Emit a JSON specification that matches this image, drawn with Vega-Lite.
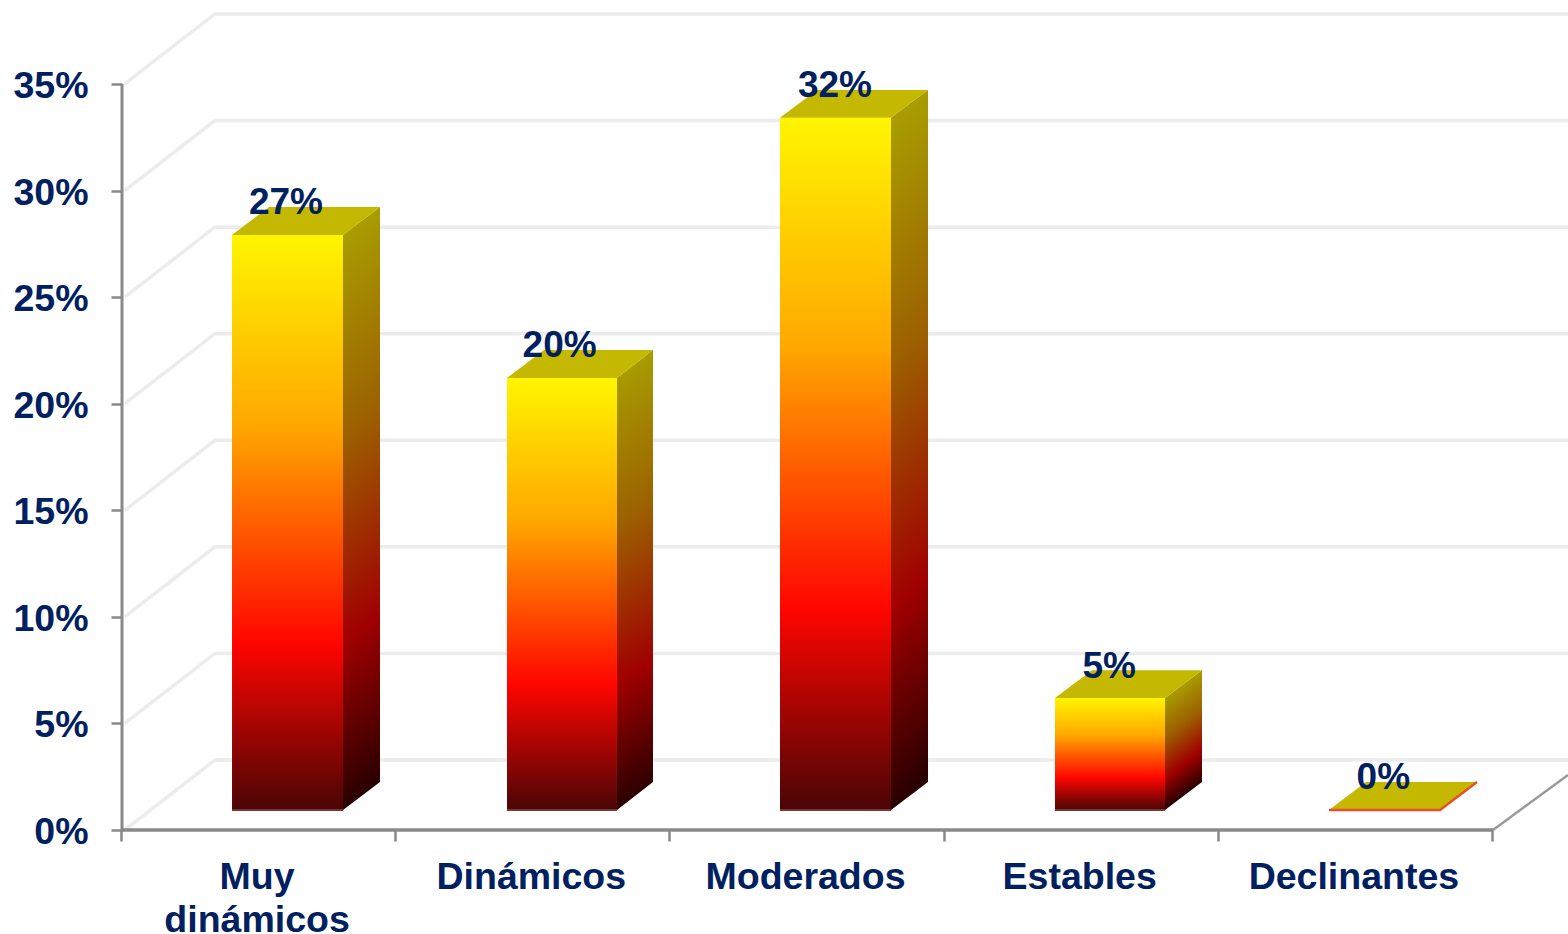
{"$schema":"https://vega.github.io/schema/vega-lite/v6.json","width":1446,"height":830,"autosize":"none","padding":{"left":122,"top":0,"right":0,"bottom":104},"background":"#ffffff","config":{"view":{"stroke":null},"font":"Liberation Sans"},
"datasets":{
"walls":[
{"level":0,"x":0.01,"y":0},{"level":0,"x":0.339,"y":3.284},{"level":0,"x":5.2735,"y":3.284},
{"level":5,"x":0.01,"y":5},{"level":5,"x":0.339,"y":8.284},{"level":5,"x":5.2735,"y":8.284},
{"level":10,"x":0.01,"y":10},{"level":10,"x":0.339,"y":13.284},{"level":10,"x":5.2735,"y":13.284},
{"level":15,"x":0.01,"y":15},{"level":15,"x":0.339,"y":18.284},{"level":15,"x":5.2735,"y":18.284},
{"level":20,"x":0.01,"y":20},{"level":20,"x":0.339,"y":23.284},{"level":20,"x":5.2735,"y":23.284},
{"level":25,"x":0.01,"y":25},{"level":25,"x":0.339,"y":28.284},{"level":25,"x":5.2735,"y":28.284},
{"level":30,"x":0.01,"y":30},{"level":30,"x":0.339,"y":33.284},{"level":30,"x":5.2735,"y":33.284},
{"level":35,"x":0.01,"y":35},{"level":35,"x":0.339,"y":38.284},{"level":35,"x":5.2735,"y":38.284}],
"bars":[
{"category":"Muy dinámicos","label":"27%","x0":0.4012,"x1":0.806,"mid":0.598,"base":0.938,"top":27.92,"back":29.23},
{"category":"Dinámicos","label":"20%","x0":1.4041,"x1":1.8052,"mid":1.596,"base":0.938,"top":21.21,"back":22.52},
{"category":"Moderados","label":"32%","x0":2.3997,"x1":2.8045,"mid":2.6,"base":0.938,"top":33.41,"back":34.72},
{"category":"Estables","label":"5%","x0":3.4026,"x1":3.8038,"mid":3.6,"base":0.938,"top":6.19,"back":7.5},
{"category":"Declinantes","label":"0%","x0":4.4019,"x1":4.8067,"mid":4.6,"base":0.938,"top":0.938,"back":2.252}],
"sides":[
{"category":"Muy dinámicos","x":0.806,"y":27.92,"y2":0.938},{"category":"Muy dinámicos","x":0.9409,"y":29.23,"y2":2.252},
{"category":"Dinámicos","x":1.8052,"y":21.21,"y2":0.938},{"category":"Dinámicos","x":1.9365,"y":22.52,"y2":2.252},
{"category":"Moderados","x":2.8045,"y":33.41,"y2":0.938},{"category":"Moderados","x":2.9395,"y":34.72,"y2":2.252},
{"category":"Estables","x":3.8038,"y":6.19,"y2":0.938},{"category":"Estables","x":3.9387,"y":7.5,"y2":2.252}],
"tops":[
{"category":"Muy dinámicos","x":0.4012,"y":27.92,"y2":27.92},{"category":"Muy dinámicos","x":0.5361,"y":29.23,"y2":27.92},{"category":"Muy dinámicos","x":0.806,"y":29.23,"y2":27.92},{"category":"Muy dinámicos","x":0.9409,"y":29.23,"y2":29.23},
{"category":"Dinámicos","x":1.4041,"y":21.21,"y2":21.21},{"category":"Dinámicos","x":1.539,"y":22.52,"y2":21.21},{"category":"Dinámicos","x":1.8052,"y":22.52,"y2":21.21},{"category":"Dinámicos","x":1.9365,"y":22.52,"y2":22.52},
{"category":"Moderados","x":2.3997,"y":33.41,"y2":33.41},{"category":"Moderados","x":2.5346,"y":34.72,"y2":33.41},{"category":"Moderados","x":2.8045,"y":34.72,"y2":33.41},{"category":"Moderados","x":2.9395,"y":34.72,"y2":34.72},
{"category":"Estables","x":3.4026,"y":6.19,"y2":6.19},{"category":"Estables","x":3.5375,"y":7.5,"y2":6.19},{"category":"Estables","x":3.8038,"y":7.5,"y2":6.19},{"category":"Estables","x":3.9387,"y":7.5,"y2":7.5},
{"category":"Declinantes","x":4.4019,"y":0.938,"y2":0.938},{"category":"Declinantes","x":4.5368,"y":2.252,"y2":0.938},{"category":"Declinantes","x":4.8067,"y":2.252,"y2":0.938},{"category":"Declinantes","x":4.9417,"y":2.252,"y2":2.252}],
"edge":[{"x":4.4019,"y":0.938},{"x":4.8067,"y":0.938},{"x":4.9417,"y":2.252}],
"rightFloor":[{"x":5,"y":0},{"x":5.2735,"y":2.58}]
},
"layer":[
{"data":{"name":"walls"},"mark":{"type":"line","color":"#ececec","strokeWidth":3.5},
"encoding":{"x":{"field":"x","type":"quantitative","scale":{"domain":[0,5.2735],"nice":false,"zero":false},"title":null,
"axis":{"values":[0,0.5,1,1.5,2,2.5,3,3.5,4,4.5,5],"title":null,"domain":false,"grid":false,"tickColor":"#898989","tickWidth":2.5,"tickSize":11,"tickOffset":-1,"tickOpacity":{"condition":{"test":"datum.value % 1 !== 0","value":0},"value":1},"labelExpr":"datum.value===0.5?['Muy','dinámicos']:datum.value===1.5?'Dinámicos':datum.value===2.5?'Moderados':datum.value===3.5?'Estables':datum.value===4.5?'Declinantes':''","labelFont":"Liberation Sans","labelFontWeight":"bold","labelFontSize":37.5,"labelColor":"#002060","labelPadding":17,"labelOverlap":false,"labelFlush":false,"labelBound":false,"labelLimit":0,"labelBaseline":"top","labelLineHeight":43,"labelAngle":0,"labelOffset":-1.5}},
"y":{"field":"y","type":"quantitative","scale":{"domain":[0,38.94],"nice":false,"zero":false},"title":null,
"axis":{"values":[0,5,10,15,20,25,30,35],"title":null,"labelExpr":"datum.value+'%'","domain":false,"grid":false,"tickColor":"#898989","tickWidth":2.5,"tickSize":11,"labelFont":"Liberation Sans","labelFontWeight":"bold","labelFontSize":37.5,"labelColor":"#002060","labelPadding":23,"labelOverlap":false,"labelFlush":false,"labelBound":false,"labelOffset":2.5}},
"detail":{"field":"level","type":"nominal"}}},
{"data":{"values":[{"from":0,"to":35}]},"mark":{"type":"rule","color":"#898989","strokeWidth":3},"encoding":{"x":{"datum":0,"type":"quantitative","title":null},"y":{"field":"from","type":"quantitative","title":null},"y2":{"field":"to"}}},
{"data":{"values":[{"from":0,"to":5}]},"mark":{"type":"rule","color":"#898989","strokeWidth":3.5},"encoding":{"y":{"datum":0,"type":"quantitative","title":null},"x":{"field":"from","type":"quantitative","title":null},"x2":{"field":"to"}}},
{"data":{"name":"rightFloor"},"mark":{"type":"line","color":"#999999","strokeWidth":2.5},"encoding":{"x":{"field":"x","type":"quantitative","title":null},"y":{"field":"y","type":"quantitative","title":null}}},
{"data":{"name":"sides"},"transform":[{"filter":"datum.category !== 'Estables'"}],"mark":{"type":"area","color":{"gradient":"linear","x1":0,"y1":0.05,"x2":0.047,"y2":0.9976,"stops":[{"offset":0,"color":"#a89c00"},{"offset":0.35,"color":"#9c6000"},{"offset":0.71,"color":"#a00000"},{"offset":1,"color":"#2a0000"}]}},"encoding":{"detail":{"field":"category","type":"nominal"},"x":{"field":"x","type":"quantitative","title":null},"y":{"field":"y","type":"quantitative","title":null},"y2":{"field":"y2"}}},
{"data":{"name":"sides"},"transform":[{"filter":"datum.category === 'Estables'"}],"mark":{"type":"area","color":{"gradient":"linear","x1":0,"y1":0.2,"x2":0.154,"y2":0.969,"stops":[{"offset":0,"color":"#a89c00"},{"offset":0.35,"color":"#9c6000"},{"offset":0.71,"color":"#a00000"},{"offset":1,"color":"#2a0000"}]}},"encoding":{"detail":{"field":"category","type":"nominal"},"x":{"field":"x","type":"quantitative","title":null},"y":{"field":"y","type":"quantitative","title":null},"y2":{"field":"y2"}}},
{"data":{"name":"bars"},"mark":{"type":"rect","color":{"gradient":"linear","x1":0,"y1":0,"x2":0,"y2":1,"stops":[{"offset":0,"color":"#fff500"},{"offset":0.33,"color":"#ffa800"},{"offset":0.71,"color":"#ff0500"},{"offset":1,"color":"#4a0505"}]}},"encoding":{"x":{"field":"x0","type":"quantitative","title":null},"x2":{"field":"x1"},"y":{"field":"top","type":"quantitative","title":null},"y2":{"field":"base"}}},
{"data":{"name":"bars"},"transform":[{"filter":"datum.category !== 'Declinantes'"}],"mark":{"type":"rule","color":"#7a3535","strokeWidth":2},"encoding":{"x":{"field":"x0","type":"quantitative","title":null},"x2":{"field":"x1"},"y":{"field":"base","type":"quantitative","title":null}}},
{"data":{"name":"tops"},"mark":{"type":"area","color":"#c4b800"},"encoding":{"detail":{"field":"category","type":"nominal"},"x":{"field":"x","type":"quantitative","title":null},"y":{"field":"y","type":"quantitative","title":null},"y2":{"field":"y2"}}},
{"data":{"name":"edge"},"mark":{"type":"line","color":"#e8502a","strokeWidth":2.5},"encoding":{"x":{"field":"x","type":"quantitative","title":null},"y":{"field":"y","type":"quantitative","title":null}}},
{"data":{"name":"bars"},"mark":{"type":"text","font":"Liberation Sans","fontWeight":"bold","fontSize":37,"color":"#002060","align":"center","baseline":"middle","dy":-3.5},"encoding":{"text":{"field":"label"},"x":{"field":"mid","type":"quantitative","title":null},"y":{"field":"back","type":"quantitative","title":null}}}
]}
